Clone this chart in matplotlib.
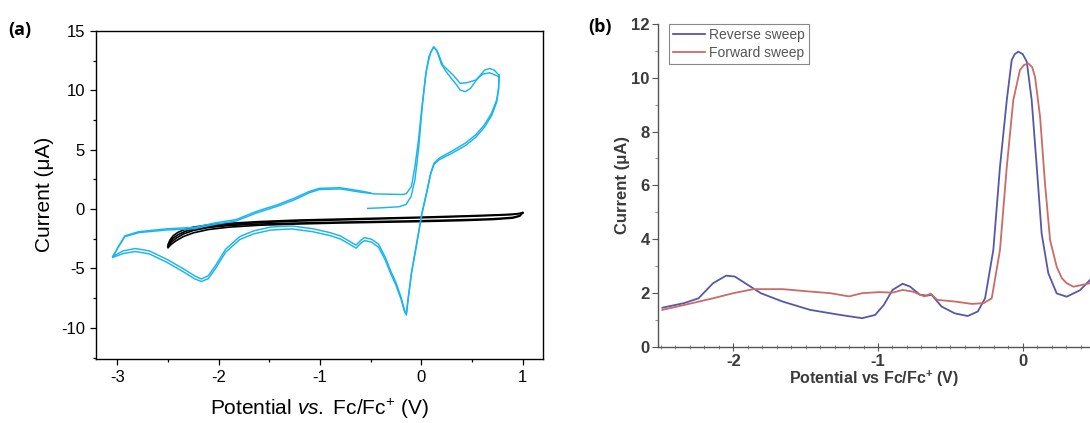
import matplotlib
matplotlib.use('Agg')
import matplotlib.pyplot as plt
from matplotlib.ticker import MultipleLocator

plt.rcParams['font.family'] = ['Liberation Sans', 'DejaVu Sans']
plt.rcParams['mathtext.fontset'] = 'custom'
plt.rcParams['mathtext.rm'] = 'Liberation Sans'
plt.rcParams['mathtext.it'] = 'Liberation Sans:italic'
plt.rcParams['mathtext.bf'] = 'Liberation Sans:bold'
plt.rcParams['axes.unicode_minus'] = False

# ---------------- (a) cyclic voltammogram ----------------
# first forward scan (starts at -0.53 V)
cv_fwd1_x = [-0.53, -0.39, -0.22, -0.15, -0.10, -0.063, -0.028, 0.006, 0.04, 0.074, 0.119, 0.153,
             0.195, 0.246, 0.297, 0.349, 0.383, 0.434, 0.486, 0.554, 0.623, 0.674, 0.72, 0.767]
cv_fwd1_y = [0.06, 0.11, 0.2, 0.39, 1.09, 2.49, 5.0, 8.35, 11.15, 12.82, 13.66, 13.38,
             12.26, 11.56, 11.0, 10.45, 10.03, 9.89, 10.17, 11.0, 11.7, 11.84, 11.7, 11.28]

# reverse scans (0.77 V -> -3.05 V)
cv_rev_x = [0.767, 0.762, 0.743, 0.692, 0.623, 0.537, 0.434, 0.297, 0.177, 0.126, 0.092, 0.058,
            0.006, -0.045, -0.097, -0.131, -0.148, -0.165, -0.2, -0.251, -0.303, -0.354, -0.422,
            -0.491, -0.56, -0.594, -0.645, -0.714, -0.8, -0.902, -1.074, -1.279, -1.485, -1.656,
            -1.793, -1.931, -2.033, -2.102, -2.171, -2.239, -2.342, -2.513, -2.685, -2.822,
            -2.942, -3.045]
cv_rev1_y = [11.28, 10.2, 9.19, 8.07, 7.1, 6.26, 5.56, 4.86, 4.3, 3.88, 3.04, 1.65,
             -0.31, -2.82, -5.34, -7.57, -8.83, -8.55, -7.43, -6.17, -5.2, -4.08, -2.96,
             -2.54, -2.40, -2.6, -3.04, -2.68, -2.26, -1.98, -1.65, -1.42, -1.51, -1.84,
             -2.32, -3.38, -4.78, -5.61, -5.89, -5.61, -5.06, -4.22, -3.52, -3.32,
             -3.52, -3.99]
cv_rev2_y = [11.15, 10.05, 9.0, 7.85, 6.9, 6.05, 5.35, 4.68, 4.16, 3.78, 2.95, 1.55,
             -0.4, -2.9, -5.4, -7.65, -8.92, -8.65, -7.6, -6.4, -5.42, -4.33, -3.21,
             -2.79, -2.65, -2.85, -3.29, -2.93, -2.51, -2.23, -1.9, -1.67, -1.76, -2.09,
             -2.57, -3.63, -5.03, -5.86, -6.1, -5.86, -5.31, -4.47, -3.77, -3.57,
             -3.74, -4.07]

# second forward scan (-3.05 V -> 0.77 V)
cv_fwd2_x = [-3.045, -2.993, -2.925, -2.787, -2.513, -2.239, -2.033, -1.828, -1.622, -1.416,
             -1.245, -1.108, -1.005, -0.8, -0.594, -0.457, -0.3, -0.183, -0.148, -0.097, -0.063,
             -0.028, 0.006, 0.05, 0.092, 0.126, 0.167, 0.212, 0.263, 0.315, 0.383, 0.45, 0.537,
             0.606, 0.674, 0.767]
cv_fwd2_y = [-3.99, -3.24, -2.32, -1.98, -1.76, -1.65, -1.28, -1.0, -0.31, 0.25,
             0.81, 1.37, 1.65, 1.70, 1.42, 1.28, 1.25, 1.23, 1.3, 1.93, 3.6,
             5.84, 8.63, 11.7, 13.24, 13.66, 13.1, 12.12, 11.7, 11.28, 10.59, 10.64, 10.87,
             11.37, 11.48, 11.15]

# last forward scan, stops near -0.5 V
cv_fwd3_x = [-3.045, -2.993, -2.925, -2.787, -2.513, -2.239, -2.033, -1.828, -1.622, -1.416,
             -1.245, -1.108, -1.005, -0.8, -0.594, -0.5]
cv_fwd3_y = [-4.07, -3.2, -2.25, -1.9, -1.66, -1.54, -1.16, -0.88, -0.18, 0.38,
             0.95, 1.48, 1.75, 1.8, 1.52, 1.36]

# background (black), two cycles between -2.5 V and 1.0 V
bg_fwd_x = [-2.5, -2.48, -2.45, -2.4, -2.33, -2.25, -2.1, -1.9, -1.6, -1.2, -0.8, -0.4,
            0.0, 0.4, 0.7, 0.9, 0.97, 1.0]
bg_fwd1_y = [-3.0, -2.6, -2.25, -1.95, -1.7, -1.52, -1.33, -1.2, -1.05, -0.92, -0.84, -0.76,
             -0.68, -0.58, -0.5, -0.43, -0.36, -0.3]
bg_fwd2_y = [-3.15, -2.78, -2.45, -2.15, -1.88, -1.68, -1.46, -1.3, -1.14, -1.0, -0.91, -0.82,
             -0.73, -0.63, -0.54, -0.46, -0.38, -0.32]
bg_rev_x = [1.0, 0.97, 0.9, 0.7, 0.4, 0.0, -0.4, -0.8, -1.2, -1.6, -1.9, -2.1, -2.25, -2.35,
            -2.42, -2.47, -2.5]
bg_rev1_y = [-0.3, -0.55, -0.7, -0.82, -0.9, -0.98, -1.04, -1.1, -1.17, -1.26, -1.38, -1.55,
             -1.8, -2.1, -2.45, -2.8, -3.12]
bg_rev2_y = [-0.32, -0.6, -0.76, -0.88, -0.97, -1.05, -1.11, -1.17, -1.25, -1.36, -1.52, -1.72,
             -2.0, -2.32, -2.66, -2.98, -3.25]

# ---------------- (b) square wave sweeps ----------------
rev_x = [-2.49, -2.34, -2.24, -2.14, -2.05, -1.99, -1.90, -1.81, -1.66, -1.47, -1.26, -1.11,
         -1.02, -0.96, -0.90, -0.83, -0.78, -0.71, -0.66, -0.63, -0.56, -0.47, -0.38, -0.31,
         -0.26, -0.203, -0.157, -0.11, -0.076, -0.055, -0.03, 0.0, 0.028, 0.062, 0.097, 0.131,
         0.177, 0.235, 0.304, 0.396, 0.465]
rev_y = [1.45, 1.62, 1.80, 2.36, 2.64, 2.61, 2.30, 1.99, 1.68, 1.37, 1.18, 1.06,
         1.18, 1.55, 2.11, 2.34, 2.24, 1.93, 1.90, 1.93, 1.49, 1.24, 1.14, 1.31,
         1.8, 3.6, 6.69, 9.17, 10.66, 10.88, 10.97, 10.88, 10.6, 9.17, 6.69, 4.2,
         2.73, 1.98, 1.86, 2.1, 2.48]

fwd_x = [-2.49, -2.34, -2.14, -2.0, -1.86, -1.66, -1.47, -1.33, -1.20, -1.11, -0.99, -0.90,
         -0.83, -0.76, -0.68, -0.635, -0.59, -0.47, -0.35, -0.27, -0.214, -0.157, -0.11,
         -0.065, -0.019, 0.01, 0.039, 0.065, 0.085, 0.12, 0.154, 0.189, 0.235, 0.27, 0.304,
         0.35, 0.465]
fwd_y = [1.37, 1.55, 1.80, 1.99, 2.14, 2.14, 2.05, 1.99, 1.87, 1.99, 2.03, 2.01,
         2.11, 2.05, 1.87, 1.97, 1.74, 1.68, 1.59, 1.62, 1.8, 3.6, 6.69,
         9.17, 10.29, 10.48, 10.53, 10.4, 10.04, 8.55, 6.07, 3.97, 2.97, 2.55, 2.36,
         2.23, 2.36]

CYAN = '#1ab4ee'
BLUE = '#5558a8'
RED = '#cc6a66'
GREY = '#3a3a3a'

fig = plt.figure(figsize=(10.9, 4.23), dpi=100)

# ---------- panel (a) ----------
ax1 = fig.add_axes([0.0881, 0.152, 0.4103, 0.7747])
for xs, ys in [(bg_fwd_x, bg_fwd1_y), (bg_rev_x, bg_rev1_y),
               (bg_fwd_x, bg_fwd2_y), (bg_rev_x, bg_rev2_y)]:
    ax1.plot(xs, ys, color='black', lw=1.2)
for xs, ys in [(cv_fwd1_x, cv_fwd1_y), (cv_rev_x, cv_rev1_y), (cv_fwd2_x, cv_fwd2_y),
               (cv_rev_x, cv_rev2_y), (cv_fwd3_x, cv_fwd3_y)]:
    ax1.plot(xs, ys, color=CYAN, lw=1.05)

ax1.set_xlim(-3.21, 1.203)
ax1.set_ylim(-12.6, 15)
ax1.xaxis.set_major_locator(MultipleLocator(1))
ax1.xaxis.set_minor_locator(MultipleLocator(0.5))
ax1.yaxis.set_major_locator(MultipleLocator(5))
ax1.yaxis.set_minor_locator(MultipleLocator(2.5))
ax1.tick_params(which='major', direction='out', length=4.5, width=0.9, labelsize=12)
ax1.tick_params(which='minor', direction='out', length=2.5, width=0.9)
for sp in ax1.spines.values():
    sp.set_linewidth(1.0)
ax1.set_xlabel(r'Potential $\mathit{vs.}$ Fc/Fc$^{+}$ (V)', fontsize=15, labelpad=9)
ax1.set_ylabel('Current (μA)', fontsize=15, labelpad=5)

# ---------- panel (b) ----------
ax2 = fig.add_axes([0.6037, 0.1804, 0.3963, 0.7629])
ax2.plot(rev_x, rev_y, color=BLUE, lw=1.3, label='Reverse sweep')
ax2.plot(fwd_x, fwd_y, color=RED, lw=1.3, label='Forward sweep')
ax2.set_xlim(-2.52, 0.465)
ax2.set_ylim(0, 12)
ax2.xaxis.set_major_locator(MultipleLocator(1))
ax2.xaxis.set_minor_locator(MultipleLocator(0.1))
ax2.yaxis.set_major_locator(MultipleLocator(2))
ax2.yaxis.set_minor_locator(MultipleLocator(1))
ax2.spines['top'].set_visible(False)
ax2.spines['right'].set_visible(False)
for s in ['left', 'bottom']:
    ax2.spines[s].set_color('#555555')
    ax2.spines[s].set_linewidth(1.0)
ax2.tick_params(axis='x', which='major', direction='inout', length=6, color='#555555')
ax2.tick_params(axis='x', which='minor', direction='inout', length=3.5, color='#777777')
ax2.tick_params(axis='y', which='major', direction='out', length=4, color='#555555')
ax2.tick_params(axis='y', which='minor', direction='out', length=2.5, color='#777777')
ax2.tick_params(which='major', labelsize=12, labelcolor=GREY, pad=2)
for lab in ax2.get_xticklabels() + ax2.get_yticklabels():
    lab.set_fontweight('bold')
ax2.set_xlabel(r'Potential vs Fc/Fc$^{\mathbf{+}}$ (V)', fontsize=11.5, fontweight='bold',
               color=GREY, labelpad=0)
ax2.set_ylabel('Current (μA)', fontsize=12, fontweight='bold', color=GREY, labelpad=1)

leg = ax2.legend(loc='upper left', bbox_to_anchor=(0.025, 1.0), borderaxespad=0,
                 fontsize=10, handlelength=2.3, handletextpad=0.3, labelspacing=0.25,
                 borderpad=0.3, fancybox=False, framealpha=1, edgecolor='#888888')
leg.get_frame().set_linewidth(0.8)
for t in leg.get_texts():
    t.set_color('#555555')

# panel letters
fig.text(8 / 1090, 1 - 30 / 423, '(a)', fontsize=13, fontweight='bold',
         family=['Open Sans', 'DejaVu Sans'], va='center')
fig.text(588 / 1090, 1 - 27 / 423, '(b)', fontsize=13, fontweight='bold',
         family=['Open Sans', 'DejaVu Sans'], va='center')

fig.savefig('out.png', dpi=100)
